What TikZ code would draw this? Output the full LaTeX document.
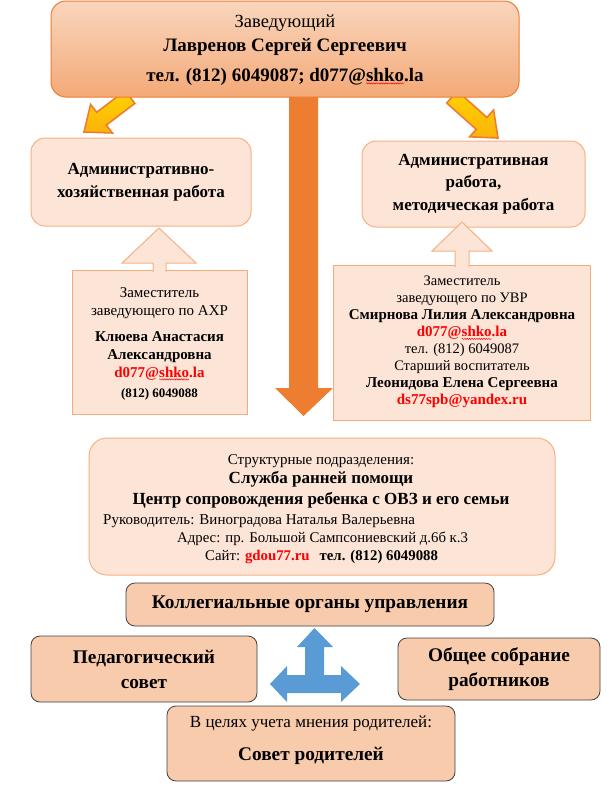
\documentclass[tikz,border=0pt]{standalone}
\usepackage{fontspec}
\setmainfont{Liberation Serif}
\usetikzlibrary{decorations.pathmorphing}
\definecolor{peach}{HTML}{FCE4D6}
\definecolor{peachedge}{HTML}{F4B183}
\definecolor{orng}{HTML}{ED7D31}
\definecolor{salmon}{HTML}{F8CBAD}
\definecolor{gold}{HTML}{FFC000}
\definecolor{blu}{HTML}{5B9BD5}
\definecolor{rd}{HTML}{FF0000}
\newcommand{\fs}[2]{\fontsize{#1}{#2}\selectfont}
\newsavebox{\sqbox}
\newlength{\sqw}
\newcommand{\squig}[1]{\sbox{\sqbox}{#1}\setlength{\sqw}{\wd\sqbox}\rlap{\usebox{\sqbox}}%
  \tikz[overlay,baseline=0pt]\draw[rd,line width=0.5pt,decorate,decoration={snake,amplitude=0.6pt,segment length=2.4pt}] (0pt,-2.4pt) -- (\the\sqw,-2.4pt);%
  \hspace{\sqw}}
\begin{document}
\begin{tikzpicture}[x=1pt,y=-1pt,
  softbox/.style={draw=peachedge,fill=peach,line width=1pt,rounded corners=14pt,inner sep=0pt,align=center},
  squarebox/.style={draw=peachedge!90!orng,fill=peach,line width=1pt,inner sep=0pt,align=center},
  darkbox/.style={draw=black!75,fill=salmon,line width=0.8pt,rounded corners=9pt,inner sep=0pt,align=center},
  uparrow/.style={draw=peachedge,fill=peach,line width=1pt,line join=miter},
  yarrow/.style={draw=orng,line width=1.6pt,line join=miter,top color=gold!70!yellow,bottom color=gold!80!orng},
  txt/.style={inner sep=0pt}]
\useasboundingbox (0,0) rectangle (612,793);

% yellow arrows (drawn below the top box)
\draw[yarrow] (125.2,90.6) -- (96.7,112.3) -- (90.6,104.4) -- (84,132) -- (112.4,133.0) -- (106.3,125.1) -- (134.8,103.4) -- cycle;
\draw[yarrow] (457.3,91.0) -- (486.9,117.4) -- (493.6,110.0) -- (498,138) -- (469.6,136.8) -- (476.3,129.4) -- (446.7,103.0) -- cycle;

% central orange arrow
\fill[orng] (289,90) -- (318,90) -- (318,388) -- (333,388) -- (303.5,416) -- (275,388) -- (289,388) -- cycle;

% top box
\node[draw=orng,line width=1pt,rounded corners=15pt,top color=salmon!80!white,bottom color=peachedge!85!orng,
      minimum width=468pt,minimum height=96pt] (head) at (285,49) {};
\node[txt,anchor=base] (h1) at (285,27) {\fs{18.5}{22}Заведующий};
\node[txt,anchor=base] (h2) at (285,51) {\fs{19}{22}\bfseries Лавренов Сергей Сергеевич};
\node[txt,anchor=base] (h3) at (285,81) {\fs{19}{22}\bfseries тел. (812) 6049087; d077@\squig{shko}.la};

% second level
\node[softbox,minimum width=220pt,minimum height=88pt,font=\fs{17}{23}\bfseries] (ahr) at (141,182)
  {Административно-\\ хозяйственная работа};
\node[softbox,minimum width=223pt,minimum height=86pt,font=\fs{17}{22.5}\bfseries] (met) at (473.5,184)
  {Административная\\ работа,\\ методическая работа};

% deputies
\node[squarebox,minimum width=175pt,minimum height=144pt] (dep1) at (159.5,342) {};
\node[txt,anchor=base] (d1a) at (159.5,297) {\fs{15}{18}Заместитель};
\node[txt,anchor=base] (d1b) at (159.5,315) {\fs{15}{18}заведующего по АХР};
\node[txt,anchor=base] (d1c) at (159.5,341) {\fs{15}{18}\bfseries Клюева Анастасия};
\node[txt,anchor=base] (d1d) at (159.5,359) {\fs{15}{18}\bfseries Александровна};
\node[txt,anchor=base] (d1e) at (159.5,377) {\fs{15}{18}\bfseries\color{rd}d077@\squig{shko}.la};
\node[txt,anchor=base] (d1f) at (159.5,397) {\fs{13}{16}\bfseries (812) 6049088};

\node[squarebox,minimum width=257pt,minimum height=155pt] (dep2) at (461.5,342.5) {};
\node[txt,anchor=base] (d2a) at (462,285.5) {\fs{14.5}{17}Заместитель};
\node[txt,anchor=base] (d2b) at (462,302.5) {\fs{14.5}{17}заведующего по УВР};
\node[txt,anchor=base] (d2c) at (462,319.5) {\fs{15}{17}\bfseries Смирнова Лилия Александровна};
\node[txt,anchor=base] (d2d) at (462,336.5) {\fs{15}{17}\bfseries\color{rd}d077@\squig{shko}.la};
\node[txt,anchor=base] (d2e) at (462,353.5) {\fs{14.5}{17}тел. (812) 6049087};
\node[txt,anchor=base] (d2f) at (462,370.5) {\fs{14.5}{17}Старший воспитатель};
\node[txt,anchor=base] (d2g) at (462,387.5) {\fs{15}{17}\bfseries Леонидова Елена Сергеевна};
\node[txt,anchor=base] (d2h) at (462,404.5) {\fs{15}{17}\bfseries\color{rd}ds77spb@yandex.ru};

% up arrows
\draw[uparrow] (153,272) -- (153,263) -- (122,263) -- (159,228) -- (196,263) -- (166,263) -- (166,272);
\draw[uparrow] (455,267) -- (455,251) -- (432,251) -- (462,222) -- (492,251) -- (469,251) -- (469,267);

% structural units
\node[softbox,rounded corners=18pt,minimum width=466pt,minimum height=137pt] (units) at (322,506.5) {};
\node[txt,anchor=base] (u1) at (321,464) {\fs{15}{17}Структурные подразделения:};
\node[txt,anchor=base] (u2) at (321,483) {\fs{17}{20}\bfseries Служба ранней помощи};
\node[txt,anchor=base] (u3) at (321,504) {\fs{17}{20}\bfseries Центр сопровождения ребенка с ОВЗ и его семьи};
\node[txt,anchor=base west] (u4) at (103,524) {\fs{15}{17}Руководитель: Виноградова Наталья Валерьевна};
\node[txt,anchor=base west] (u5) at (177,542) {\fs{14.8}{17}Адрес: пр. Большой Сампсониевский д.6б к.3};
\node[txt,anchor=base west] (u6) at (205,560) {\fs{14.8}{17}Сайт: {\bfseries\color{rd}gdou77.ru}\hspace{10pt}{\bfseries тел. (812) 6049088}};

% collegial bodies
\node[darkbox,minimum width=368pt,minimum height=43pt,font=\fs{19.3}{22}\bfseries] (koll) at (310,604.5)
  {Коллегиальные органы управления};
\node[darkbox,minimum width=226pt,minimum height=66pt,font=\fs{19.3}{25}\bfseries] (ped) at (144,669)
  {Педагогический\\ совет};
\node[darkbox,minimum width=202pt,minimum height=62pt,font=\fs{19.3}{25}\bfseries] (obsh) at (499,669)
  {Общее собрание\\ работников};
\node[darkbox,minimum width=288pt,minimum height=75pt] (rod) at (311,743.5) {};
\node[txt,anchor=base] (r1) at (311,727) {\fs{17}{20}В целях учета мнения родителей:};
\node[txt,anchor=base] (r2) at (311,760) {\fs{19.3}{22}\bfseries Совет родителей};

% blue three-way arrow
\fill[blu] (305,647) -- (297,647) -- (314.5,628) -- (333,647) -- (324,647) -- (324,675) -- (341,675) -- (341,666) -- (360,684) -- (341,702) -- (341,693) -- (287,693) -- (287,702) -- (270,684) -- (287,666) -- (287,675) -- (305,675) -- cycle;
\end{tikzpicture}
\end{document}
